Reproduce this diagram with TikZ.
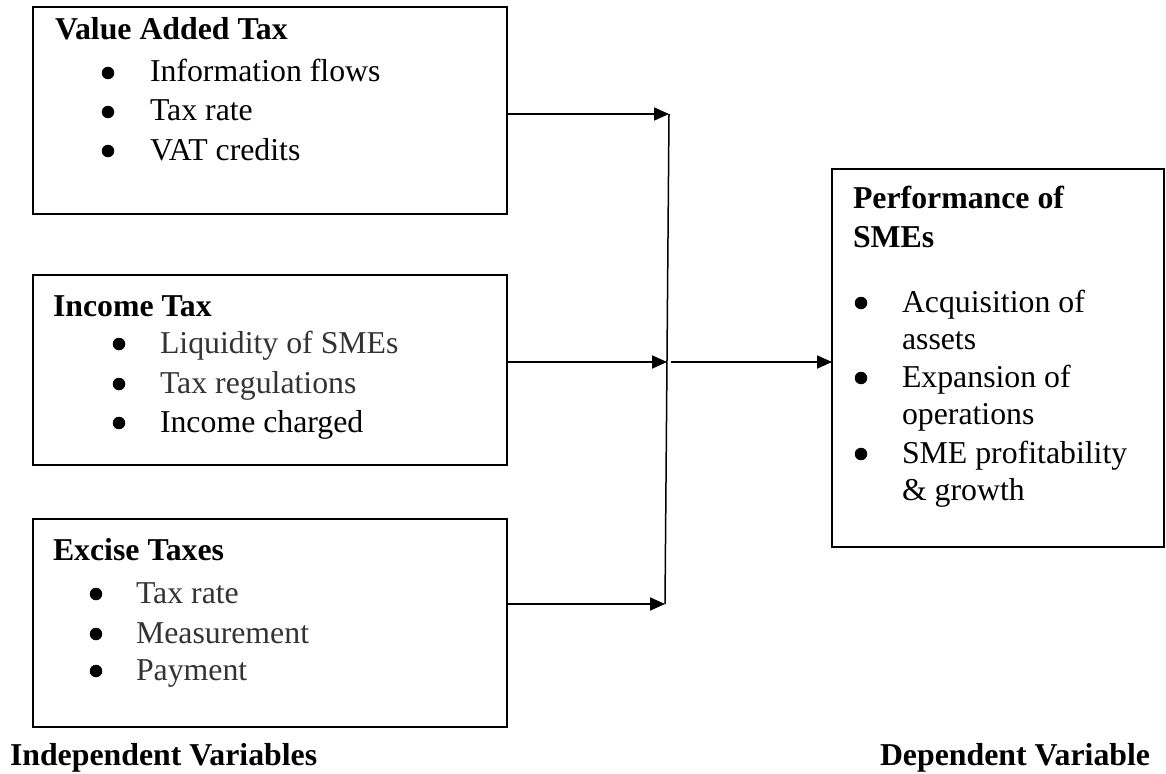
\documentclass[tikz,border=0pt]{standalone}
\usepackage{fontspec}
\setmainfont{Liberation Serif}
\usetikzlibrary{arrows.meta}
\begin{document}
\begin{tikzpicture}[x=1pt,y=-1pt,
  box/.style={draw=black, line width=1.4pt, anchor=north west, inner sep=0, outer sep=0},
  txt/.style={anchor=base west, inner sep=0, outer sep=0, font=\fontsize{31.8}{37}\selectfont},
  gtxt/.style={txt, text=black!80},
  ttl/.style={anchor=base west, inner sep=0, outer sep=0, font=\fontsize{31.8}{37}\selectfont\bfseries},
  bul/.style={circle, fill=black, draw=none, inner sep=0, outer sep=0, minimum size=12.5pt},
  arr/.style={line width=1.8pt, -{Triangle[length=15pt,width=13pt]}},
  conn/.style={line width=1.5pt}]
\useasboundingbox (0,0) rectangle (1166,773);

% boxes
\node[box, minimum width=474pt, minimum height=207pt] (b1) at (33,7) {};
\node[box, minimum width=474pt, minimum height=190pt] (b2) at (33,275) {};
\node[box, minimum width=474pt, minimum height=208pt] (b3) at (33,519) {};
\node[box, minimum width=332pt, minimum height=378pt] (rb) at (832,169) {};

% box 1
\node[ttl] (t1) at (55,40) {Value Added Tax};
\node[bul] (b1a) at (108,73) {};
\node[bul] (b1b) at (108,112) {};
\node[bul] (b1c) at (108,151) {};
\node[txt] (i1a) at (150,82) {Information flows};
\node[txt] (i1b) at (150,121) {Tax rate};
\node[txt] (i1c) at (150,160) {VAT credits};

% box 2
\node[ttl] (t2) at (53,316) {Income Tax};
\node[bul] (b2a) at (119,344) {};
\node[bul] (b2b) at (119,384) {};
\node[bul] (b2c) at (119,423) {};
\node[gtxt] (i2a) at (160,353) {Liquidity of SMEs};
\node[gtxt] (i2b) at (160,393) {Tax regulations};
\node[txt] (i2c) at (160,432) {Income charged};

% box 3
\node[ttl] (t3) at (53,560) {Excise Taxes};
\node[bul] (b3a) at (96,594) {};
\node[bul] (b3b) at (96,634) {};
\node[bul] (b3c) at (96,671) {};
\node[gtxt] (i3a) at (136,603) {Tax rate};
\node[gtxt] (i3b) at (136,643) {Measurement};
\node[gtxt] (i3c) at (136,680) {Payment};

% right box
\node[ttl] (t4a) at (853,208) {Performance of};
\node[ttl] (t4b) at (853,247) {SMEs};
\node[bul] (b4a) at (861,303) {};
\node[bul] (b4b) at (861,378) {};
\node[bul] (b4c) at (861,454) {};
\node[txt] (i4a) at (902,312) {Acquisition of};
\node[txt] (i4a2) at (902,349) {assets};
\node[txt] (i4b) at (902,387) {Expansion of};
\node[txt] (i4b2) at (902,424) {operations};
\node[txt] (i4c) at (902,463) {SME profitability};
\node[txt] (i4c2) at (902,500) {\& growth};

% labels
\node[ttl] (lind) at (10,765) {Independent Variables};
\node[ttl] (ldep) at (880,765) {Dependent Variable};

% connectors
\coordinate (j1) at (669,114);
\coordinate (j2) at (667,362);
\coordinate (j3) at (665,604);
\coordinate (o2) at (671,362);
\draw[arr] (b1.east |- j1) -- (j1);
\draw[arr] (b2.east |- j2) -- (j2);
\draw[arr] (b3.east |- j3) -- (j3);
\draw[conn] (j1) -- (j3);
\draw[arr] (o2) -- (rb.west |- o2);
\end{tikzpicture}
\end{document}
